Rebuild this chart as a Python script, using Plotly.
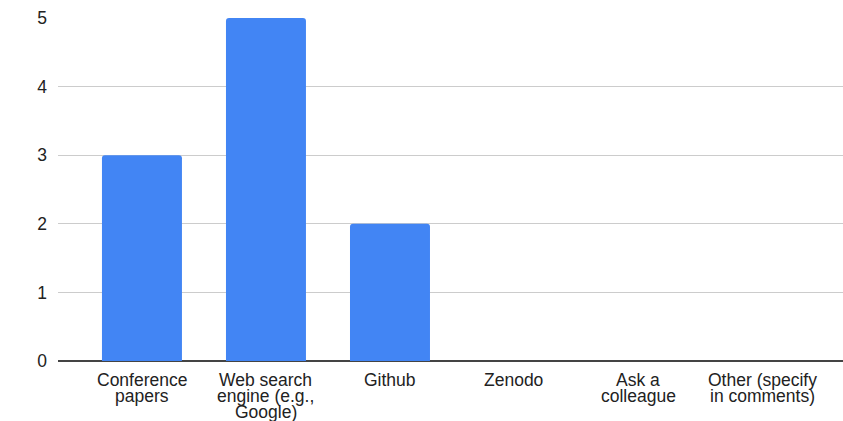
import plotly.graph_objects as go

# Survey responses: where people look for datasets / tools
categories = [
    ["Conference", "papers"],
    ["Web search", "engine (e.g.,", "Google)"],
    ["Github"],
    ["Zenodo"],
    ["Ask a", "colleague"],
    ["Other (specify", "in comments)"],
]
counts = [3, 5, 2, 0, 0, 0]
y_ticks = [0, 1, 2, 3, 4, 5]

FONT = "Liberation Sans, Arial, sans-serif"
TEXT_COLOR = "#222222"
LABEL_SIZE = 17.5
LINE_STEP = 16  # tight line spacing for the wrapped category labels

x_pos = list(range(len(categories)))

fig = go.Figure(
    go.Bar(
        x=x_pos,
        y=counts,
        marker=dict(color="#4285F4", line=dict(width=0)),
        hoverinfo="skip",
    )
)

# Category labels drawn line by line under the axis
annotations = []
for xi, lines in zip(x_pos, categories):
    for k, line in enumerate(lines):
        annotations.append(
            dict(
                x=xi,
                y=0,
                xref="x",
                yref="y",
                text=line,
                showarrow=False,
                xanchor="center",
                yanchor="middle",
                yshift=-19 - LINE_STEP * k,
                font=dict(family=FONT, size=LABEL_SIZE, color=TEXT_COLOR),
            )
        )

fig.update_layout(
    width=843,
    height=421,
    margin=dict(l=58, r=0, t=18, b=60),
    paper_bgcolor="white",
    plot_bgcolor="white",
    bargap=0.355,
    barcornerradius=3,
    showlegend=False,
    font=dict(family=FONT, size=LABEL_SIZE, color=TEXT_COLOR),
    annotations=annotations,
)

fig.update_xaxes(
    range=[-0.677, 5.653],
    showticklabels=False,
    showgrid=False,
    showline=False,
    zeroline=False,
    ticks="",
)

fig.update_yaxes(
    range=[0, 5],
    tickmode="array",
    tickvals=y_ticks,
    showgrid=True,
    gridcolor="#cccccc",
    gridwidth=1,
    zeroline=True,
    zerolinecolor="#444444",
    zerolinewidth=1.5,
    showline=False,
    ticks="",
    ticklabelstandoff=10,
    tickfont=dict(family=FONT, size=LABEL_SIZE, color=TEXT_COLOR),
)

fig.write_html("out.html")
